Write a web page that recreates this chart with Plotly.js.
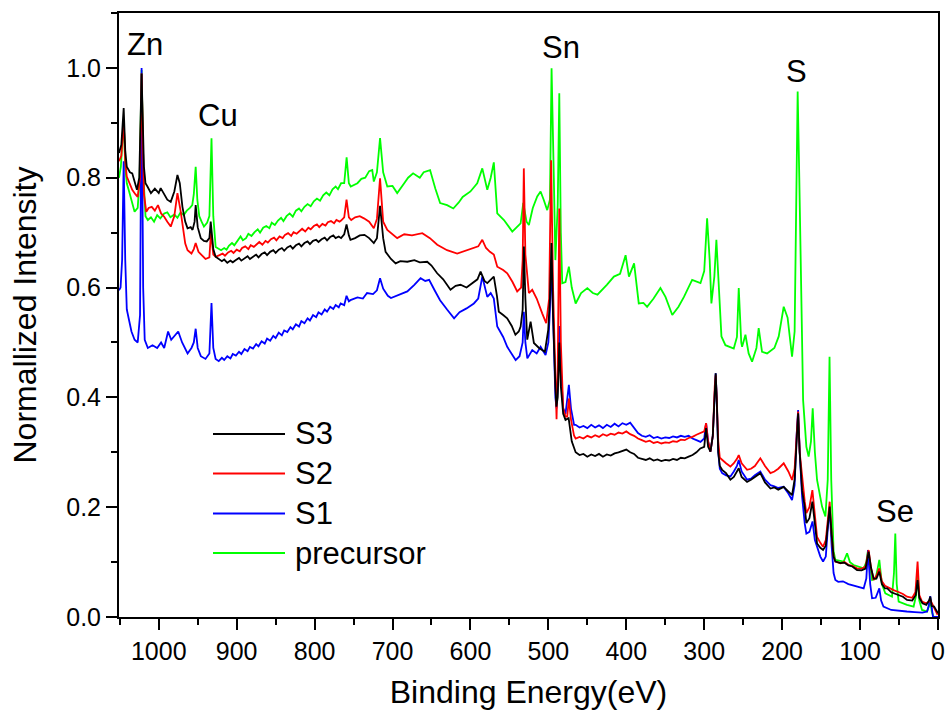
<!DOCTYPE html>
<html>
<head>
<meta charset="utf-8">
<script src="https://cdn.plot.ly/plotly-3.0.1.min.js"></script>
<style>html,body{margin:0;padding:0;background:#fff;}#chart{width:948px;height:719px;}</style>
</head>
<body>
<div id="chart"></div>
<script>
// ---------- data (binding energy in eV, normalized intensity) ----------
const precursorBE = [1051,1048.6,1047,1045,1043,1041,1038,1035,1031,1027,1024.5,1022,1019.5,1017,1014,1010,1006,1002,998,993,989,985,980,976,972,968,964,960,957,955,952.6,950.5,948,945,942,938,935,932.3,930,927,
920,916,913,910,906,903,899,895,892,888,885,881,877,873,870,866,862,858,855,851,847,843,840,836,832,828,824,820,817,813,809,805,801,797,793,789,785,781,777,773,770,766,762,758.9,756,753.6,745,740,735,730,726,724,720,716,712,706.7,700,694,685,680,673.6,665,660,651.8,645,638.9,630,622,615,610,600,591.3,584.8,578.4,574,570,565.6,557,546.3,540,535.6,532.2,528,525,520,514.3,510,506,501.5,498,495.9,493,491,488,486,484,482.2,478,473.7,470,465,458,450,443,437,425,415.9,408,400.9,396.6,390,384,378,373.3,365,356.2,349.7,341,333,326,315.5,304.8,300,296.3,293,290.8,287,284.4,281,277.9,272.8,262.1,258,255.7,252.5,251.4,247.1,243,238.6,233,230.1,227,225.8,219.3,210,204.4,198,193,191.6,187.3,184,182,180.1,178,175,173.1,168.9,166,163,160.8,158,155.2,148.8,144.5,141.5,139.2,137,134,131.7,121,116.7,113,108.2,95.4,92,89.8,87,84.6,80,75.3,72,67.6,59,56.5,54.8,53,50.5,39.8,31.3,28,26.2,24,20.5,14.1,11.5,9.9,8,5.6,0];
const precursorI = [0.80,0.82,0.86,0.907,0.82,0.79,0.775,0.76,0.738,0.745,0.80,0.996,0.80,0.73,0.723,0.728,0.72,0.732,0.726,0.735,0.737,0.728,0.733,0.727,0.737,0.732,0.74,0.745,0.75,0.77,0.82,0.76,0.73,0.72,0.711,0.718,0.73,0.872,0.73,0.674,
0.668,0.672,0.669,0.676,0.681,0.677,0.684,0.693,0.686,0.690,0.698,0.694,0.701,0.706,0.700,0.709,0.712,0.708,0.718,0.714,0.722,0.727,0.721,0.730,0.735,0.729,0.740,0.744,0.739,0.747,0.752,0.748,0.757,0.762,0.758,0.768,0.773,0.768,0.779,0.784,0.779,0.790,0.790,0.837,0.79,0.784,0.79,0.798,0.80,0.812,0.814,0.793,0.81,0.872,0.81,0.784,0.785,0.772,0.79,0.80,0.808,0.80,0.81,0.814,0.78,0.754,0.75,0.744,0.755,0.765,0.775,0.79,0.817,0.778,0.80,0.828,0.735,0.723,0.702,0.71,0.717,0.754,0.72,0.714,0.745,0.766,0.775,0.76,0.741,0.76,0.9995,0.80,0.65,0.75,0.954,0.70,0.608,0.61,0.638,0.60,0.571,0.59,0.599,0.59,0.587,0.605,0.620,0.625,0.659,0.620,0.644,0.571,0.572,0.565,0.58,0.599,0.583,0.55,0.565,0.583,0.614,0.608,0.63,0.726,0.65,0.571,0.62,0.687,0.60,0.511,0.495,0.489,0.51,0.599,0.50,0.492,0.514,0.48,0.465,0.49,0.526,0.49,0.483,0.480,0.49,0.511,0.565,0.545,0.529,0.474,0.52,0.80,0.957,0.80,0.50,0.395,0.310,0.292,0.32,0.380,0.30,0.2495,0.201,0.183,0.25,0.474,0.25,0.12,0.104,0.101,0.116,0.10,0.0947,0.0887,0.10,0.122,0.09,0.0674,0.07,0.104,0.06,0.0431,0.037,0.08,0.152,0.06,0.028,0.022,0.019,0.04,0.0856,0.03,0.0128,0.0097,0.02,0.031,0.01,0.0,0.0];

const s1BE = [1051,1049,1047,1045,1043,1041,1038,1035,1031,1027,1024,1022,1020,1018,1014,1008,1002,997,993,988,984,978,975,970,966,963,958,955,952.6,950,946,940,935,932.3,930,927,
923,919,916,912,908,905,901,897,894,890,886,883,879,875,872,868,864,861,857,853,850,846,842,839,835,831,828,824,820,817,813,809,806,802,798,795,791,787,784,780,776,773,769,766.6,762,759,756,754,745,738,732.7,725,720,716,712,706,702,695,688,681,672,664,658,653,646,639,630,621,614,605,595.6,590,584.8,580,578.4,574,570,565.6,558,552.8,547,542,537,533,531.5,529.5,527,520.7,515,510,503.6,500,498,496.5,494,491,489.5,488,486,484,481,478,475.5,473.7,471,467,
465,460,455,450,445,440,435,430,425,420,415,410,405,400,395,390,385,380,375,370,365,360,355,350,345,340,335,330,325,320,315,310,304.8,300,297.6,295,292,289,286.5,285.3,284,282,280,277,272,266.4,262,258,255.7,252,245,240,235,228,222,215,210,205,198,192,187.3,184,181.5,179.5,177.5,174.4,171,168.9,165,161,158,155.2,151,147.5,144,141.5,139,136.5,134,131.7,128,122,115,108,103.9,98,95.4,92,89.8,87,84.6,80,77.5,75.3,73,70,60,50,40,30,20,14,12,10,8.5,6.4,3,0];
const s1I = [0.595,0.60,0.65,0.83,0.65,0.56,0.54,0.52,0.505,0.50,0.55,1.0,0.60,0.505,0.49,0.495,0.49,0.50,0.49,0.52,0.505,0.515,0.52,0.50,0.49,0.48,0.49,0.50,0.525,0.49,0.475,0.47,0.48,0.572,0.49,0.47,
0.466,0.472,0.468,0.475,0.471,0.479,0.476,0.483,0.479,0.488,0.484,0.492,0.489,0.497,0.493,0.502,0.498,0.507,0.503,0.512,0.508,0.518,0.513,0.522,0.519,0.528,0.524,0.533,0.529,0.539,0.535,0.544,0.540,0.550,0.546,0.555,0.551,0.560,0.556,0.565,0.561,0.568,0.564,0.571,0.568,0.585,0.575,0.577,0.582,0.58,0.590,0.588,0.595,0.617,0.598,0.585,0.581,0.585,0.59,0.593,0.605,0.617,0.612,0.614,0.595,0.577,0.56,0.544,0.555,0.562,0.571,0.58,0.620,0.59,0.583,0.59,0.58,0.529,0.51,0.492,0.48,0.468,0.475,0.50,0.556,0.50,0.471,0.486,0.48,0.492,0.477,0.50,0.56,0.650,0.55,0.40,0.38,0.42,0.53,0.45,0.38,0.37,0.40,0.4226,0.38,0.35,
0.35,0.345,0.348,0.344,0.35,0.345,0.349,0.344,0.35,0.346,0.352,0.347,0.353,0.35,0.354,0.345,0.335,0.33,0.328,0.331,0.326,0.328,0.325,0.327,0.326,0.329,0.327,0.33,0.328,0.33,0.325,0.322,0.319,0.325,0.353,0.32,0.301,0.33,0.42,0.444,0.40,0.30,0.27,0.262,0.258,0.256,0.265,0.275,0.286,0.265,0.25,0.252,0.258,0.265,0.25,0.240,0.238,0.235,0.237,0.225,0.213,0.24,0.33,0.377,0.30,0.219,0.17,0.152,0.155,0.174,0.14,0.128,0.11,0.101,0.11,0.16,0.198,0.13,0.08,0.0674,0.064,0.065,0.06,0.057,0.055,0.053,0.052,0.07,0.122,0.06,0.034,0.035,0.045,0.052,0.03,0.019,0.0128,0.011,0.01,0.009,0.008,0.01,0.02,0.038,0.02,0.0,0.0,0.0];

const s2BE = [1051,1048,1045,1043,1041,1037,1034,1030,1027,1024,1022,1019,1016,1013,1009,1005,1001,997,993,989,984.6,980,976,972,969.6,966,963,958,955,952.6,949,945,940,935,933,930,927,
922,918,915,911,907,904,900,896,893,889,885,882,878,874,871,867,863,860,856,852,849,845,841,838,834,830,827,823,819,816,812,808,805,801,797,794,790,786,783,779,775,772,768,766,762,759,756,753,748,742,736.7,730,724,720,716,712,706.7,700,694,685,675,661.8,652,642.6,630,617,605,595.6,590,584.8,580,575,570,565.6,558,552.8,546,540,535,533,531.5,529.5,525,520.7,515,507.9,502.8,499,496.5,494,491,489.5,488,486,484,481,478,475.8,473.7,471,467,
465,460,455,450,445,440,435,430,425,420,415,410,405,400,395,390,385,380,375,370,365,360,355,350,345,340,335,330,325,320,315,310,304.8,300,297.6,295,292,289,286.5,285.3,284,282,280,277,272,266.4,262,258,255.7,252,245,240,235,228,222,215,210,205,198,192,187.3,184,181.5,179.5,177.5,174.4,171,168.9,165,161.2,158,155.2,151,147.5,144,141.5,139,136.5,134,131.7,125,120,115,110,103.9,98,93,89,86,82.6,79,75.3,72,68,65.4,60,57,50,45,39.8,33,29,26.2,24,20.5,15,11.5,9.9,6,3,0.5];
const s2I = [0.83,0.84,0.905,0.83,0.802,0.79,0.778,0.77,0.765,0.80,0.99,0.77,0.738,0.745,0.747,0.74,0.75,0.735,0.729,0.72,0.711,0.73,0.772,0.74,0.717,0.68,0.668,0.662,0.67,0.681,0.665,0.66,0.652,0.655,0.70,0.66,0.656,
0.659,0.662,0.658,0.664,0.667,0.663,0.669,0.666,0.672,0.675,0.670,0.677,0.674,0.680,0.683,0.678,0.685,0.682,0.688,0.691,0.686,0.693,0.690,0.696,0.699,0.694,0.701,0.698,0.704,0.707,0.702,0.709,0.706,0.712,0.715,0.710,0.716,0.713,0.719,0.721,0.717,0.723,0.720,0.722,0.728,0.760,0.728,0.723,0.728,0.730,0.726,0.72,0.708,0.725,0.799,0.72,0.705,0.697,0.690,0.697,0.695,0.699,0.69,0.678,0.668,0.662,0.668,0.672,0.675,0.687,0.672,0.665,0.660,0.638,0.632,0.626,0.61,0.593,0.600,0.65,0.817,0.66,0.590,0.596,0.58,0.553,0.535,0.58,0.832,0.60,0.40,0.36,0.45,0.744,0.50,0.38,0.365,0.365,0.398,0.36,0.33,
0.325,0.328,0.325,0.33,0.327,0.331,0.328,0.333,0.33,0.334,0.332,0.336,0.334,0.338,0.333,0.33,0.325,0.322,0.319,0.321,0.317,0.319,0.316,0.318,0.317,0.32,0.319,0.323,0.322,0.326,0.328,0.332,0.335,0.338,0.353,0.32,0.301,0.33,0.42,0.44,0.40,0.32,0.29,0.286,0.28,0.274,0.28,0.288,0.295,0.28,0.268,0.27,0.275,0.289,0.275,0.262,0.265,0.27,0.280,0.265,0.2495,0.27,0.34,0.374,0.30,0.25,0.21,0.189,0.20,0.231,0.18,0.146,0.135,0.128,0.14,0.18,0.210,0.15,0.11,0.101,0.098,0.1,0.095,0.093,0.0887,0.088,0.092,0.122,0.09,0.0674,0.075,0.0887,0.065,0.057,0.055,0.05,0.049,0.045,0.042,0.037,0.035,0.045,0.101,0.04,0.028,0.025,0.028,0.031,0.019,0.01,0.004];

const s3BE = [1051,1048,1045,1043,1041,1037,1034,1030,1028,1025,1022,1019,1017,1014.5,1010,1005,1000,997.5,993,989,984.6,980,976,973,969.6,966,963,959,956.6,954,952.6,950,946,942,938.4,935,933.3,930,927,
923,919,916,912,908,905,901,897,894,890,886,883,879,875,872,868,864,861,857,853,850,846,842,839,835,831,828,824,820,817,813,809,806,802,798,795,791,787,784,780,776,773,769,766,762,759,756,754,748,742,736,730,724,720,716,712,708.9,702,696,690,681,672,665,655.5,650,642.7,635,625.6,619,612.8,605,595.7,591,587,582,578.4,574,570,566,563.6,558,552.9,547,542.3,538,535.6,533,531.4,529.5,527.1,522.8,518.6,512,504.5,500.2,498,496,494,491,489.7,488,486,484,481,478,474,470,
465,460,455,450,445,440,435,430,425,420,415,410,405,400,395,390,385,380,375,370,365,360,355,350,345,340,335,330,325,320,315,310,305,300,297.6,295,292,289,286.5,285.3,284,282,280,277,272,266.4,262,258,255.7,252,245,240,235,228,222,215,210,205,198,192,187.3,184,181.5,179.5,177.5,174.4,171,168.9,165,161.2,158,155.2,151,147.5,144,141.5,139,136.5,134,131.7,125,120,115,110,103.9,98,93,89,86,82.6,79,75.3,72,68,65,60,55,50,45,39.8,33,28.5,26.2,24,20,15,11.5,9.9,8,5,2,0];
const s3I = [0.845,0.86,0.927,0.85,0.82,0.81,0.808,0.79,0.778,0.80,0.99,0.82,0.79,0.784,0.772,0.78,0.772,0.781,0.77,0.76,0.756,0.775,0.805,0.79,0.747,0.72,0.708,0.71,0.705,0.72,0.750,0.71,0.690,0.685,0.684,0.69,0.720,0.67,0.656,
0.652,0.648,0.651,0.645,0.649,0.646,0.650,0.654,0.649,0.653,0.657,0.652,0.656,0.660,0.655,0.661,0.664,0.659,0.665,0.668,0.663,0.669,0.672,0.667,0.673,0.676,0.671,0.677,0.680,0.675,0.681,0.684,0.679,0.685,0.687,0.683,0.688,0.691,0.686,0.692,0.695,0.690,0.693,0.690,0.697,0.715,0.695,0.687,0.690,0.695,0.696,0.690,0.681,0.69,0.749,0.69,0.665,0.652,0.644,0.648,0.647,0.650,0.646,0.647,0.64,0.626,0.615,0.596,0.603,0.605,0.600,0.611,0.615,0.629,0.612,0.608,0.615,0.620,0.585,0.556,0.55,0.544,0.53,0.514,0.52,0.529,0.56,0.6745,0.58,0.505,0.538,0.499,0.49,0.483,0.523,0.58,0.681,0.55,0.42,0.383,0.40,0.50,0.42,0.37,0.359,0.362,0.32,
0.30,0.295,0.297,0.292,0.296,0.293,0.297,0.292,0.296,0.294,0.298,0.300,0.303,0.305,0.300,0.297,0.29,0.288,0.286,0.289,0.285,0.287,0.284,0.286,0.285,0.288,0.286,0.29,0.289,0.292,0.295,0.30,0.307,0.31,0.344,0.31,0.301,0.33,0.42,0.444,0.40,0.30,0.275,0.268,0.262,0.25,0.255,0.265,0.271,0.255,0.246,0.25,0.255,0.262,0.245,0.234,0.236,0.232,0.237,0.228,0.222,0.25,0.33,0.371,0.30,0.231,0.20,0.171,0.18,0.210,0.17,0.134,0.126,0.122,0.13,0.17,0.201,0.15,0.11,0.101,0.098,0.099,0.094,0.092,0.0856,0.085,0.088,0.119,0.09,0.07,0.07,0.0825,0.06,0.052,0.052,0.045,0.042,0.040,0.037,0.031,0.03,0.04,0.067,0.035,0.025,0.022,0.03,0.037,0.02,0.019,0.012,0.007];

const seriesNames = ["S3", "S2", "S1", "precursor"];
const seriesColors = ["#000000", "#ff0000", "#0000ff", "#00ff00"];

const peakLabels = ["Zn", "Cu", "Sn", "S", "Se"];
const peakBE = [1018, 924.3, 483.3, 182, 55];
const peakI = [1.042, 0.914, 1.038, 0.993, 0.193];

// ---------- figure ----------
const FONT = "Liberation Sans, Arial, sans-serif";
const traceDefs = [
  {x: precursorBE, y: precursorI, k: 3},
  {x: s1BE, y: s1I, k: 2},
  {x: s2BE, y: s2I, k: 1},
  {x: s3BE, y: s3I, k: 0}
];
const traces = traceDefs.map(d => ({
  type: "scatter", mode: "lines", x: d.x, y: d.y,
  name: seriesNames[d.k], showlegend: false,
  line: {color: seriesColors[d.k], width: 1.8}
}));

const L = 119, R = 10, T = 13, B = 102, W = 948, H = 719;
const pw = W - L - R, ph = H - T - B;
const legendRowsPx = [434, 473.5, 513.5, 553];
const shapes = [], annotations = [];
seriesNames.forEach((nm, i) => {
  const py = (H - B - legendRowsPx[i]) / ph;
  shapes.push({type: "line", xref: "paper", yref: "paper",
    x0: (213 - L) / pw, x1: (285 - L) / pw, y0: py, y1: py,
    line: {color: seriesColors[i], width: 2}});
  annotations.push({xref: "paper", yref: "paper", x: (293 - L) / pw, y: py,
    xanchor: "left", yanchor: "middle", showarrow: false, text: nm,
    font: {family: FONT, size: 31, color: "#000"}});
});
peakLabels.forEach((t, i) => {
  annotations.push({xref: "x", yref: "y", x: peakBE[i], y: peakI[i],
    xanchor: "center", yanchor: "middle", showarrow: false, text: t,
    font: {family: FONT, size: 31, color: "#000"}});
});

const axisCommon = {
  showgrid: false, zeroline: false, showline: true, linecolor: "#000", linewidth: 2,
  mirror: true, ticks: "outside", ticklen: 11, tickwidth: 2, tickcolor: "#000",
  tickfont: {family: FONT, size: 25, color: "#000"}
};
const layout = {
  width: W, height: H,
  margin: {l: L, r: R, t: T, b: B},
  paper_bgcolor: "#fff", plot_bgcolor: "#fff",
  font: {family: FONT, color: "#000"},
  xaxis: Object.assign({}, axisCommon, {
    range: [1051, 0], tick0: 0, dtick: 100,
    minor: {dtick: 50, ticks: "outside", ticklen: 6, tickwidth: 2, tickcolor: "#000"},
    title: {text: "Binding Energy(eV)", font: {family: FONT, size: 32, color: "#000"}, standoff: 17}
  }),
  yaxis: Object.assign({}, axisCommon, {
    range: [0, 1.1], tick0: 0, dtick: 0.2, tickformat: ".1f",
    minor: {dtick: 0.1, ticks: "outside", ticklen: 6, tickwidth: 2, tickcolor: "#000"},
    title: {text: "Normallized Intensity", font: {family: FONT, size: 32, color: "#000"}, standoff: 20}
  }),
  shapes: shapes, annotations: annotations
};
Plotly.newPlot("chart", traces, layout, {displayModeBar: false, staticPlot: true});
</script>
</body>
</html>
